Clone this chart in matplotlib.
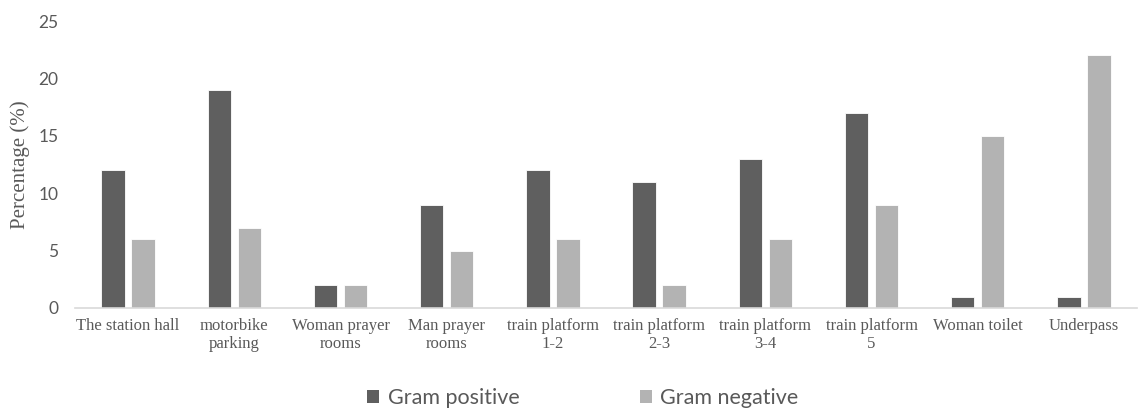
import matplotlib
matplotlib.use("Agg")
import matplotlib.pyplot as plt
import numpy as np
from matplotlib.patches import Patch

categories = ["The station hall", "motorbike\nparking", "Woman prayer\nrooms", "Man prayer\nrooms",
              "train platform\n1-2", "train platform\n2-3", "train platform\n3-4", "train platform\n5",
              "Woman toilet", "Underpass"]
gram_positive = [12, 19, 2, 9, 12, 11, 13, 17, 1, 1]
gram_negative = [6, 7, 2, 5, 6, 2, 6, 9, 15, 22]
yticks = [0, 5, 10, 15, 20, 25]

dark = "#5f5f5f"
light = "#b3b3b3"
text_col = "#595959"

fig = plt.figure(figsize=(11.38, 4.12), dpi=100)
ax = fig.add_axes([75/1138, 1-308/412, 1062/1138, 287/412])

x = np.arange(len(categories))
w = 0.22
off = 0.142
ax.bar(x - off, gram_positive, w, color=dark, edgecolor="white", linewidth=0.6)
ax.bar(x + off, gram_negative, w, color=light, edgecolor="white", linewidth=0.6)

ax.set_xlim(-0.5, len(categories) - 0.5)
ax.set_ylim(0, 25)
ax.set_yticks(yticks)
ax.set_yticklabels([str(t) for t in yticks], fontfamily="Lato", fontsize=12.5, color=text_col)
ax.set_xticks(x)
ax.set_xticklabels(categories, fontfamily="Liberation Serif", fontsize=12, color=text_col,
                   linespacing=1.2)
ax.tick_params(axis="y", length=0, pad=12)
ax.tick_params(axis="x", length=0, pad=7)
for s in ["top", "right", "left"]:
    ax.spines[s].set_visible(False)
ax.spines["bottom"].set_color("#d9d9d9")
ax.spines["bottom"].set_linewidth(1.2)

fig.text(20/1138, 1-165/412, "Percentage (%)", rotation=90, ha="center", va="center",
         fontfamily="Liberation Serif", fontsize=15, color=text_col)

handles = [Patch(facecolor=dark, label="Gram positive"), Patch(facecolor=light, label="Gram negative")]
fig.legend(handles=handles, loc="center", bbox_to_anchor=(583/1138, 1-398/412), ncol=2,
           frameon=False, prop={"family": "Lato", "size": 15.5}, labelcolor=text_col,
           handlelength=0.55, handleheight=0.55, handletextpad=0.4, columnspacing=5.6)

fig.savefig("out.png", dpi=100)
